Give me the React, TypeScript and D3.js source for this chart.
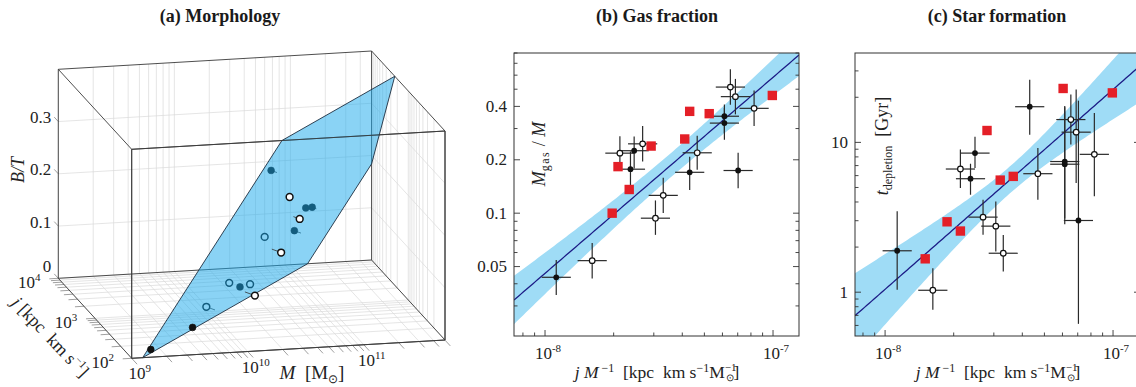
import React from "react";
import * as d3 from "d3";

const W = 1136;
const H = 387;
const FONT = "'Liberation Serif', 'Times New Roman', serif";

// ---------- (a) Morphology: mass, angular momentum, bulge fraction ----------
const morphMass = [2.01e10, 8.73e10, 1.08e11, 7.66e10, 1.89e10, 4.95e9, 1.47e9, 4.09e10, 6.37e10, 4.32e10, 2.58e10, 2.74e10, 1.24e10, 2.55e10, 8.07e9];
const morphJ = [210, 2477, 3251, 3357, 1219, 345, 102, 622, 1340, 1259, 1279, 838, 631, 1667, 682];
const morphBT = [0.318, 0.156, 0.147, 0.103, 0.037, 0.009, 0.014, 0.227, 0.157, 0.097, 0.017, 0.143, 0.069, 0.03, 0.023];
const morphFilled = [true, true, true, true, true, true, true, false, false, false, false, false, false, false, false];
// B/T = a + b log(M/1e9) + c log(j/1e2)
const planeCoef = { a: -0.0315, b: 0.3333, c: -0.3422 };
const massDomain = [1e9, 5.01e11];
const jDomain = [1e2, 1e4];
const btDomain = [0, 0.4];
const btTickValues = [0, 0.1, 0.2, 0.3];
const massLabelExp = [9, 10, 11];
const jLabelExp = [2, 3, 4];

// ---------- (b) Gas fraction: [j/M, fgas, err up (dex), err down (dex)] ----------
const gasFilled = [
  [1.12e-8, 0.0435, 0.098, 0.1],
  [2.46e-8, 0.225, 0.08, 0.1],
  [2.37e-8, 0.177, 0.1, 0.09],
  [4.31e-8, 0.17, 0.088, 0.1],
  [6.12e-8, 0.352, 0.066, 0.094],
  [6.12e-8, 0.322, 0.085, 0.094],
  [7.03e-8, 0.174, 0.1, 0.1],
];
const gasOpen = [
  [1.61e-8, 0.054, 0.1, 0.1],
  [2.13e-8, 0.218, 0.095, 0.095],
  [2.68e-8, 0.246, 0.1, 0.1],
  [3.05e-8, 0.0937, 0.1, 0.094],
  [3.3e-8, 0.126, 0.1, 0.1],
  [4.65e-8, 0.219, 0.096, 0.096],
  [6.5e-8, 0.514, 0.1, 0.1],
  [6.84e-8, 0.454, 0.1, 0.1],
  [8.26e-8, 0.39, 0.1, 0.1],
];
const gasRed = [
  [1.97e-8, 0.1], [2.09e-8, 0.183], [2.34e-8, 0.136], [2.92e-8, 0.239],
  [4.1e-8, 0.262], [4.31e-8, 0.375], [5.25e-8, 0.364], [9.93e-8, 0.461],
];
const gasFit = { y0: 0.0458, slope: 1.105, width: 0.068, spread: 0.172, pivot: -7.45 };

// ---------- (c) Star formation: [j/M, t_depl, err up, err down] ----------
const sfFilled = [
  [1.13e-8, 1.89, 0.263, 0.26],
  [2.48e-8, 8.48, 0.11, 0.1],
  [2.37e-8, 5.72, 0.1, 0.107],
  [4.31e-8, 17.3, 0.18, 0.187],
  [6.14e-8, 7.45, 0.37, 0.38],
  [6.14e-8, 7.15, 0.38, 0.4],
  [7.05e-8, 3.01, 0.8, 0.69],
];
const sfOpen = [
  [1.62e-8, 1.03, 0.147, 0.13],
  [2.14e-8, 6.64, 0.13, 0.127],
  [2.69e-8, 3.17, 0.116, 0.118],
  [3.06e-8, 2.76, 0.165, 0.17],
  [3.3e-8, 1.82, 0.122, 0.122],
  [4.68e-8, 6.18, 0.171, 0.174],
  [6.53e-8, 14.2, 0.167, 0.167],
  [6.89e-8, 11.7, 0.285, 0.34],
  [8.28e-8, 8.32, 0.276, 0.28],
];
const sfRed = [
  [1.5e-8, 1.67], [1.87e-8, 2.95], [2.14e-8, 2.56], [2.8e-8, 12.0],
  [3.2e-8, 5.6], [3.65e-8, 5.93], [6.04e-8, 22.9], [9.93e-8, 21.4],
];
const sfFit = { y0: 1.045, slope: 1.334, width: 0.09, spread: 0.395, pivot: -7.45 };
const X_ERR_DEX = 0.064;

// ---------- 3D projection for panel (a) ----------
const ORIGIN = [131.7, 358.3];
const AX_M = [313.3, -18.3];
const AX_J = [-73.4, -80];
const AX_BT = [0, -209];

const mScale = d3.scaleLog().domain(massDomain).range([0, 1]);
const jScale = d3.scaleLog().domain(jDomain).range([0, 1]);
const btScale = d3.scaleLinear().domain(btDomain).range([0, 1]);

const project = (u: number, v: number, w: number): [number, number] => [
  ORIGIN[0] + u * AX_M[0] + v * AX_J[0] + w * AX_BT[0],
  ORIGIN[1] + u * AX_M[1] + v * AX_J[1] + w * AX_BT[1],
];

const planeW = (u: number, v: number) =>
  btScale(
    planeCoef.a +
      planeCoef.b * Math.log10(mScale.invert(u) / massDomain[0]) +
      planeCoef.c * Math.log10(jScale.invert(v) / jDomain[0])
  );

const line = (p: [number, number], q: [number, number], key: string, stroke: string, sw: number) => (
  <line key={key} x1={p[0]} y1={p[1]} x2={q[0]} y2={q[1]} stroke={stroke} strokeWidth={sw} />
);

function Morphology() {
  const gridColor = "#dadada";
  const mTicks = mScale.ticks();
  const jTicks = jScale.ticks();
  const btGrid = btTickValues.filter((d) => d > 0);

  const grid: JSX.Element[] = [];
  mTicks.forEach((m, i) => {
    const u = mScale(m);
    grid.push(line(project(u, 1, 0), project(u, 1, 1), `bw${i}`, gridColor, 0.7));
    grid.push(line(project(u, 0, 0), project(u, 1, 0), `fm${i}`, gridColor, 0.7));
  });
  jTicks.forEach((j, i) => {
    const v = jScale(j);
    grid.push(line(project(1, v, 0), project(1, v, 1), `rw${i}`, gridColor, 0.7));
    grid.push(line(project(0, v, 0), project(1, v, 0), `fj${i}`, gridColor, 0.7));
  });
  btGrid.forEach((b, i) => {
    const w = btScale(b);
    grid.push(line(project(0, 1, w), project(1, 1, w), `bb${i}`, gridColor, 0.7));
    grid.push(line(project(1, 0, w), project(1, 1, w), `rb${i}`, gridColor, 0.7));
  });

  // tick stubs
  const lenJ = Math.hypot(AX_J[0], AX_J[1]);
  const lenM = Math.hypot(AX_M[0], AX_M[1]);
  const stubs: JSX.Element[] = [];
  mTicks.forEach((m, i) => {
    const p = project(mScale(m), 0, 0);
    stubs.push(line(p, [p[0] - (AX_J[0] / lenJ) * 8, p[1] - (AX_J[1] / lenJ) * 8], `ms${i}`, "#777", 0.7));
  });
  jTicks.forEach((j, i) => {
    const p = project(0, jScale(j), 0);
    stubs.push(line(p, [p[0] - (AX_M[0] / lenM) * 9, p[1] - (AX_M[1] / lenM) * 9], `js${i}`, "#777", 0.7));
  });
  btTickValues.forEach((b, i) => {
    const p = project(0, 1, btScale(b));
    stubs.push(line(p, [p[0] + (AX_J[0] / lenJ) * 6, p[1] + (AX_J[1] / lenJ) * 6], `bs${i}`, "#777", 0.7));
  });

  // box edges
  const corners = d3.range(8).map((i) => [i & 1, (i >> 1) & 1, (i >> 2) & 1]);
  const edges: [number, number][] = [];
  for (let i = 0; i < 8; i++) for (let b = 0; b < 3; b++) if (!(i & (1 << b))) edges.push([i, i | (1 << b)]);
  const corner = (i: number) => project(corners[i][0], corners[i][1], corners[i][2]);

  // plane clipped to the box
  const cut: [number, number][] = [];
  edges.forEach(([i, k]) => {
    const A = corners[i];
    const B = corners[k];
    const ga = planeW(A[0], A[1]) - A[2];
    const gb = planeW(B[0], B[1]) - B[2];
    if (ga === 0) cut.push(project(A[0], A[1], A[2]));
    if (ga * gb < 0) {
      const t = ga / (ga - gb);
      cut.push(project(A[0] + t * (B[0] - A[0]), A[1] + t * (B[1] - A[1]), A[2] + t * (B[2] - A[2])));
    }
  });
  const hull = d3.polygonHull(cut) || [];

  const dwdu = planeW(1, 0) - planeW(0, 0);
  const dwdv = planeW(0, 1) - planeW(0, 0);
  const n = [dwdu, dwdv, -1];
  const nn = n[0] * n[0] + n[1] * n[1] + n[2] * n[2];

  const pts = morphMass.map((m, i) => {
    const u = mScale(m);
    const v = jScale(morphJ[i]);
    const w = btScale(morphBT[i]);
    const f = planeW(u, v) - w;
    const k = f / nn;
    return {
      p: project(u, v, w),
      foot: project(u - k * n[0], v - k * n[1], w - k * n[2]),
      front: f > 0,
      filled: morphFilled[i],
    };
  });

  const drawPts = (list: typeof pts, tag: string) => (
    <g key={tag}>
      {list.map((d, i) => line(d.p, d.foot, `${tag}t${i}`, "#333", 0.8))}
      {list.map((d, i) => (
        <circle key={`${tag}c${i}`} cx={d.p[0]} cy={d.p[1]} r={3.4}
          fill={d.filled ? "#111" : "#fff"} stroke="#111" strokeWidth={d.filled ? 0.6 : 1.5} />
      ))}
    </g>
  );

  const frontEdge = (i: number, k: number) => corners[i][1] === 0 && corners[k][1] === 0;

  return (
    <g fontFamily={FONT}>
      {grid}
      {stubs}
      {edges.map(([i, k], e) => line(corner(i), corner(k), `e${e}`, "#3a3a3a", 0.9))}
      {drawPts(pts.filter((d) => !d.front), "back")}
      <path d={`M${hull.map((p) => p.join(",")).join("L")}Z`} fill="rgb(22,168,236)" fillOpacity={0.5} stroke="#1d2e40" strokeWidth={0.9} />
      {edges.filter(([i, k]) => frontEdge(i, k)).map(([i, k], e) => line(corner(i), corner(k), `fe${e}`, "#3a3a3a", 0.9))}
      {drawPts(pts.filter((d) => d.front), "front")}

      {btTickValues.map((b) => {
        const p = project(0, 1, btScale(b));
        return (
          <text key={`bl${b}`} x={p[0] - 7} y={p[1] - (b === 0 ? 12 : 4)} fontSize={17} textAnchor="end" dominantBaseline="central" fill="#222">
            {b === 0 ? "0" : b.toFixed(1)}
          </text>
        );
      })}
      {massLabelExp.map((e) => {
        const p = project(mScale(Math.pow(10, e)), 0, 0);
        return (
          <text key={`ml${e}`} x={p[0] + 8} y={p[1] + 21} fontSize={17} textAnchor="middle" fill="#222">
            10<tspan dy={-7} fontSize={11}>{e}</tspan>
          </text>
        );
      })}
      {jLabelExp.map((e) => {
        const p = project(0, jScale(Math.pow(10, e)), 0);
        return (
          <text key={`jl${e}`} x={p[0] - 29} y={p[1] + 10} fontSize={17} textAnchor="middle" fill="#222">
            10<tspan dy={-7} fontSize={11}>{e}</tspan>
          </text>
        );
      })}
      <text transform="translate(24,170) rotate(-90)" fontSize={18} textAnchor="middle" fontStyle="italic" fill="#222">B/T</text>
      <text transform="translate(46,341) rotate(46.5)" fontSize={18} textAnchor="middle" fill="#222" style={{ whiteSpace: "pre" }}>
        <tspan fontStyle="italic">j</tspan> [kpc  km s<tspan dy={-7} fontSize={11}>−1</tspan><tspan dy={7}>]</tspan>
      </text>
      <text x={312} y={379} fontSize={19} textAnchor="middle" fill="#222" style={{ whiteSpace: "pre" }}>
        <tspan fontStyle="italic">M</tspan>  [M<tspan dy={4} fontSize={12}>⊙</tspan><tspan dy={-4}>]</tspan>
      </text>
    </g>
  );
}

type Row = number[];
interface PanelProps {
  id: string;
  left: number;
  top: number;
  width: number;
  height: number;
  xDomain: number[];
  yDomain: number[];
  yLabeled: number[];
  filled: Row[];
  open: Row[];
  red: Row[];
  fit: { y0: number; slope: number; width: number; spread: number; pivot: number };
  yLabel: React.ReactNode;
}

function LogPanel(props: PanelProps) {
  const { id, left, top, width, height, xDomain, yDomain, yLabeled, filled, open, red, fit, yLabel } = props;
  const right = left + width;
  const bottom = top + height;
  const x = d3.scaleLog().domain(xDomain).range([left, right]);
  const y = d3.scaleLog().domain(yDomain).range([bottom, top]);
  const xLabeled = [1e-8, 1e-7];

  const fitY = (xv: number) => fit.y0 * Math.pow(xv / 1e-8, fit.slope);
  const halfDex = (xv: number) => Math.sqrt(fit.width ** 2 + fit.spread ** 2 * (Math.log10(xv) - fit.pivot) ** 2);
  const xs = d3.range(0, 121).map((i) => x.invert(left + (i / 120) * width));
  const band = d3
    .area<number>()
    .x((d) => x(d))
    .y0((d) => y(fitY(d) * Math.pow(10, -halfDex(d))))
    .y1((d) => y(fitY(d) * Math.pow(10, halfDex(d))));
  const fitLine = d3.line<number>().x((d) => x(d)).y((d) => y(fitY(d)));

  const errs = (rows: Row[], tag: string) =>
    rows.map((r, i) => (
      <g key={`${tag}${i}`} stroke="#2a2a2a" strokeWidth={1.2}>
        <line x1={x(r[0] * Math.pow(10, -X_ERR_DEX))} x2={x(r[0] * Math.pow(10, X_ERR_DEX))} y1={y(r[1])} y2={y(r[1])} />
        <line x1={x(r[0])} x2={x(r[0])} y1={y(r[1] * Math.pow(10, r[2]))} y2={y(r[1] * Math.pow(10, -r[3]))} />
      </g>
    ));

  const tickLen = (isMajor: boolean) => (isMajor ? 6 : 3.5);

  return (
    <g fontFamily={FONT}>
      <defs>
        <clipPath id={id}>
          <rect x={left} y={top} width={width} height={height} />
        </clipPath>
      </defs>
      <g clipPath={`url(#${id})`}>
        <path d={band(xs) || ""} fill="#9fdcf6" />
        <path d={fitLine(xs) || ""} fill="none" stroke="#1c1c86" strokeWidth={1.3} />
        {errs(filled, "ef")}
        {errs(open, "eo")}
        {filled.map((r, i) => <circle key={`f${i}`} cx={x(r[0])} cy={y(r[1])} r={2.9} fill="#111" />)}
        {open.map((r, i) => <circle key={`o${i}`} cx={x(r[0])} cy={y(r[1])} r={2.8} fill="#fff" stroke="#111" strokeWidth={1.2} />)}
        {red.map((r, i) => <rect key={`r${i}`} x={x(r[0]) - 4.7} y={y(r[1]) - 4.7} width={9.4} height={9.4} fill="#e41f27" />)}
      </g>
      <rect x={left} y={top} width={width} height={height} fill="none" stroke="#333" strokeWidth={1} />
      {y.ticks().map((t, i) => {
        const major = yLabeled.some((v) => Math.abs(v - t) / v < 1e-6);
        return (
          <g key={`yt${i}`} stroke="#333" strokeWidth={0.9}>
            <line x1={left} x2={left + tickLen(major)} y1={y(t)} y2={y(t)} />
            <line x1={right} x2={right - tickLen(major)} y1={y(t)} y2={y(t)} />
          </g>
        );
      })}
      {x.ticks().map((t, i) => {
        const major = xLabeled.some((v) => Math.abs(v - t) / v < 1e-6);
        return <line key={`xt${i}`} x1={x(t)} x2={x(t)} y1={bottom} y2={bottom - tickLen(major)} stroke="#333" strokeWidth={0.9} />;
      })}
      {yLabeled.map((t) => (
        <text key={`yl${t}`} x={left - 7} y={y(t)} fontSize={17} textAnchor="end" dominantBaseline="central" fill="#222">
          {t}
        </text>
      ))}
      {xLabeled.map((t) => (
        <text key={`xl${t}`} x={x(t) + 3} y={359} fontSize={17} textAnchor="middle" fill="#222">
          10<tspan dy={-7} fontSize={11}>{Math.round(Math.log10(t))}</tspan>
        </text>
      ))}
      <text x={left + 143} y={378} fontSize={17.5} textAnchor="middle" fill="#222" style={{ whiteSpace: "pre" }}>
        <tspan fontStyle="italic">j</tspan> <tspan fontStyle="italic">M</tspan>
        <tspan dy={-6} fontSize={12}> −1</tspan>
        <tspan dy={6}>  [kpc  km s</tspan>
        <tspan dy={-6} fontSize={12}>−1</tspan>
        <tspan dy={6}>M</tspan>
        <tspan dy={-7} fontSize={11}>−1</tspan>
        <tspan dx={-11} dy={10} fontSize={10}>⊙</tspan>
        <tspan dy={-3}>]</tspan>
      </text>
      {yLabel}
    </g>
  );
}

export default function App() {
  return (
    <svg width={W} height={H} viewBox={`0 0 ${W} ${H}`} style={{ position: "absolute", left: 0, top: 0, background: "#fff" }}>
      <rect width={W} height={H} fill="#fff" />
      <g fontFamily={FONT} fontWeight="bold" fontSize={18} textAnchor="middle" fill="#1a1a1a">
        <text x={220} y={22}>(a) Morphology</text>
        <text x={657} y={22}>(b) Gas fraction</text>
        <text x={997} y={22}>(c) Star formation</text>
      </g>
      <Morphology />
      <LogPanel
        id="clipB"
        left={514}
        top={53}
        width={285}
        height={283}
        xDomain={[7.31e-9, 1.3e-7]}
        yDomain={[0.0203, 0.8]}
        yLabeled={[0.05, 0.1, 0.2, 0.4]}
        filled={gasFilled}
        open={gasOpen}
        red={gasRed}
        fit={gasFit}
        yLabel={
          <text transform="translate(545,154) rotate(-90)" fontSize={18} textAnchor="middle" fill="#222" style={{ whiteSpace: "pre" }}>
            <tspan fontStyle="italic">M</tspan>
            <tspan dy={4} fontSize={12} letterSpacing={1.5}>gas</tspan>
            <tspan dy={-4}> / </tspan>
            <tspan fontStyle="italic">M</tspan>
          </text>
        }
      />
      <LogPanel
        id="clipC"
        left={855}
        top={53}
        width={285}
        height={283}
        xDomain={[7.38e-9, 1.313e-7]}
        yDomain={[0.51, 39.5]}
        yLabeled={[1, 10]}
        filled={sfFilled}
        open={sfOpen}
        red={sfRed}
        fit={sfFit}
        yLabel={
          <text transform="translate(888,146) rotate(-90)" fontSize={18} textAnchor="middle" fill="#222" style={{ whiteSpace: "pre" }}>
            <tspan fontStyle="italic">t</tspan>
            <tspan dy={4} fontSize={12}>depletion</tspan>
            <tspan dy={-4}>  [Gyr]</tspan>
          </text>
        }
      />
    </svg>
  );
}
